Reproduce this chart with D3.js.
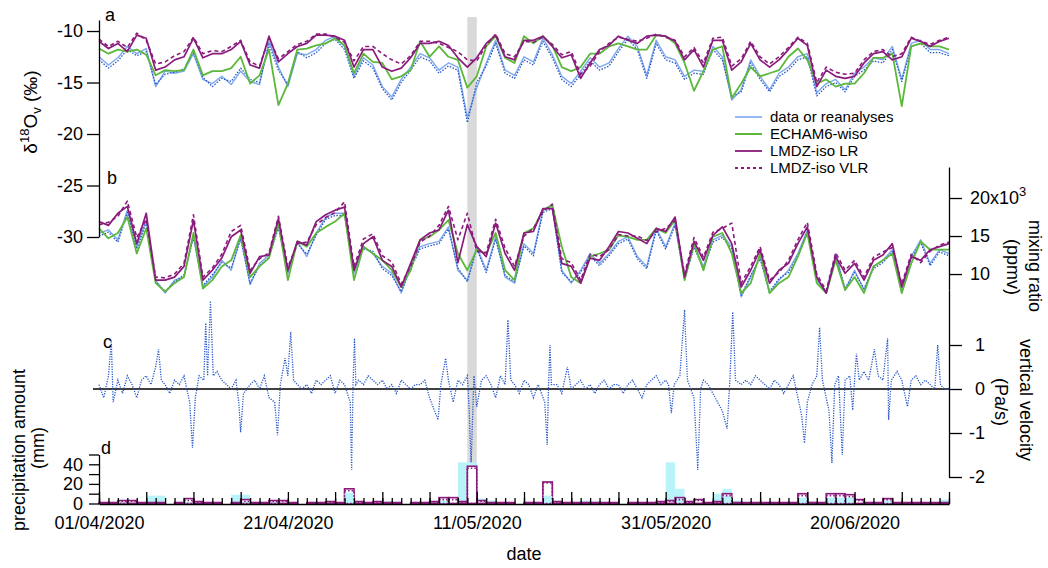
<!DOCTYPE html>
<html>
<head>
<meta charset="utf-8">
<script src="https://d3js.org/d3.v7.min.js"></script>
<style>
  body { margin: 0; background: #fff; }
  text { font-family: "Liberation Sans", Arial, sans-serif; fill: #000; }
  .axis path, .axis line { stroke: #000; stroke-width: 1.3; }
  .axis text { font-size: 18px; }
</style>
</head>
<body>
<div class="chart"></div>
<script>
// Daily values, 01/04/2020 (day 0) .. 30/06/2020 (day 90)

// panel a : d18O of vapour (permil)
var d18Data = [-12.5,-13.3,-12.6,-11.5,-12.2,-11.7,-15.4,-13.9,-14.1,-13.9,
  -12.2,-14.7,-15.1,-14.4,-15.2,-13.9,-14.9,-15.2,-11.0,-13.5,
  -15.4,-12.2,-12.3,-11.8,-10.9,-10.5,-11.5,-14.4,-12.6,-13.3,
  -15.4,-16.4,-14.7,-13.5,-12.2,-12.6,-13.8,-13.1,-13.5,-18.4,
  -15.5,-13.1,-10.9,-13.8,-14.3,-12.5,-13.0,-10.7,-12.3,-14.4,
  -15.1,-13.9,-12.6,-13.5,-13.1,-11.7,-10.5,-11.5,-14.3,-10.9,
  -12.5,-12.8,-14.4,-13.8,-13.9,-11.5,-12.5,-16.7,-15.7,-12.8,
  -14.4,-15.7,-14.1,-13.5,-12.5,-12.2,-16.0,-15.1,-14.7,-15.7,
  -14.1,-13.5,-12.6,-12.8,-11.5,-14.7,-11.2,-10.9,-11.8,-11.8,-12.2];
var d18Rean = [-12.8,-13.6,-12.9,-11.8,-12.4,-12.0,-15.2,-14.2,-14.0,-13.7,
  -12.0,-14.5,-15.4,-14.6,-14.9,-13.6,-14.7,-15.0,-11.3,-13.8,
  -15.2,-12.0,-12.6,-12.1,-11.2,-10.8,-11.8,-14.6,-12.9,-13.6,
  -15.6,-16.7,-15.0,-13.8,-12.5,-12.9,-14.1,-13.4,-13.8,-18.9,
  -15.0,-13.4,-11.2,-14.1,-14.6,-12.8,-13.3,-11.0,-12.6,-14.7,
  -15.4,-14.2,-12.9,-13.8,-13.4,-12.0,-10.8,-11.8,-14.6,-11.2,
  -12.8,-13.1,-14.7,-14.1,-14.2,-11.8,-12.8,-16.4,-15.9,-13.1,
  -14.7,-15.9,-14.4,-13.8,-12.8,-12.5,-16.3,-15.4,-15.0,-15.9,
  -14.4,-13.8,-12.9,-13.1,-11.8,-14.9,-11.5,-11.2,-12.1,-12.1,-12.4];
var d18Echam = [-11.7,-12.2,-11.8,-12.0,-11.8,-12.3,-14.3,-13.8,-13.9,-13.8,
  -11.8,-14.3,-13.9,-13.9,-13.6,-12.5,-15.1,-14.3,-11.8,-17.2,
  -15.1,-11.8,-11.7,-11.4,-11.2,-10.7,-11.4,-14.1,-12.2,-13.0,
  -13.1,-14.7,-14.4,-13.8,-11.0,-12.5,-11.5,-12.5,-12.8,-15.5,
  -14.4,-11.5,-10.5,-12.6,-13.1,-10.5,-11.2,-10.5,-11.4,-13.5,
  -13.9,-13.5,-12.2,-12.2,-11.5,-11.2,-11.5,-11.8,-11.8,-10.4,
  -10.5,-11.2,-13.1,-15.8,-13.9,-11.8,-11.5,-16.5,-15.1,-13.5,
  -14.4,-14.1,-13.8,-12.5,-11.7,-12.8,-15.1,-14.7,-15.4,-15.1,
  -15.1,-14.1,-12.6,-12.6,-12.2,-17.3,-11.5,-11.2,-11.5,-11.5,-11.8];
var d18LR = [-11.0,-11.7,-11.2,-12.0,-10.4,-10.7,-13.8,-13.5,-12.8,-12.5,
  -10.7,-12.6,-12.2,-12.2,-11.8,-11.0,-13.3,-13.6,-10.5,-13.0,
  -12.2,-11.5,-11.2,-10.4,-10.4,-10.5,-10.9,-13.5,-11.8,-11.8,
  -13.5,-13.9,-13.6,-12.6,-11.2,-11.2,-11.0,-11.4,-12.6,-13.5,
  -12.6,-11.2,-10.4,-12.5,-12.8,-10.9,-10.9,-10.5,-11.5,-12.6,
  -12.3,-14.6,-13.1,-11.8,-11.4,-10.5,-10.9,-11.2,-10.5,-10.4,
  -10.5,-11.0,-12.8,-11.8,-13.5,-10.9,-10.9,-13.8,-13.0,-11.2,
  -12.8,-13.5,-12.8,-11.8,-10.7,-11.4,-15.4,-13.8,-14.4,-14.6,
  -14.4,-13.1,-12.2,-12.0,-12.8,-12.5,-10.7,-11.0,-11.5,-11.0,-10.7];
var d18VLR = [-10.8,-11.5,-11.0,-11.6,-10.2,-10.9,-13.2,-13.0,-12.4,-12.0,
  -10.6,-12.2,-11.9,-12.0,-11.5,-10.9,-13.0,-13.4,-10.7,-12.7,
  -12.0,-11.3,-11.0,-10.3,-10.3,-10.6,-11.1,-12.9,-11.5,-11.5,
  -12.2,-12.8,-13.2,-12.4,-11.0,-11.0,-11.2,-11.6,-12.0,-12.8,
  -12.9,-11.4,-10.3,-12.2,-12.5,-11.0,-11.1,-10.6,-11.3,-12.3,
  -12.0,-14.2,-13.4,-12.0,-11.2,-10.6,-10.8,-11.0,-10.7,-10.3,
  -10.6,-10.9,-12.5,-11.6,-13.1,-10.7,-10.6,-13.4,-12.7,-11.0,
  -12.5,-13.2,-12.5,-11.6,-10.6,-11.2,-15.0,-13.5,-14.0,-14.2,
  -14.1,-12.8,-12.0,-11.8,-12.5,-12.2,-10.6,-11.0,-11.3,-10.9,-10.6];

// panel b : mixing ratio (10^3 ppmv)
var qData = [15.4,15.8,14.5,18.4,13.6,17.1,9.2,7.5,9.2,9.6,
  15.1,8.3,9.6,11.8,10.5,14.9,8.6,11.4,12.5,16.4,
  10.1,14.3,12.3,15.4,17.5,18.0,18.0,10.1,13.6,12.7,
  11.0,10.1,7.5,11.0,13.6,14.0,14.3,16.2,10.5,9.2,
  13.6,10.5,14.9,9.6,8.8,14.0,12.7,18.4,18.9,10.5,
  8.8,10.5,12.7,11.4,12.7,14.3,14.9,12.3,11.0,16.0,
  13.6,16.7,9.2,13.8,11.0,14.5,15.1,13.6,7.0,9.6,
  12.3,7.5,9.2,10.5,12.7,15.8,9.2,7.5,12.7,7.9,
  10.5,7.9,11.0,11.8,13.2,7.5,12.3,14.5,11.4,13.2,12.7];
var qRean = [15.0,15.5,14.2,18.1,13.3,16.8,9.0,7.7,9.0,9.9,
  14.8,8.5,9.9,11.5,10.8,14.6,8.8,11.1,12.2,16.1,
  10.3,14.0,12.6,15.1,17.2,17.7,17.7,10.3,13.3,13.0,
  10.7,9.8,7.7,10.7,13.3,13.7,14.0,15.9,10.8,9.0,
  13.3,10.2,14.6,9.8,9.0,13.7,12.4,18.1,18.6,10.2,
  9.0,10.2,12.4,11.1,12.4,14.0,14.6,12.0,10.7,15.7,
  13.3,16.4,9.4,13.5,10.7,14.2,14.8,13.3,7.2,9.8,
  12.0,7.7,9.4,10.2,12.4,15.5,9.4,7.7,12.4,8.1,
  10.2,8.1,10.7,11.5,12.9,7.7,12.0,14.2,11.1,12.9,12.4];
var qEcham = [16.0,14.7,15.4,17.5,12.7,16.0,8.8,7.7,8.8,9.6,
  15.4,8.1,9.2,11.0,11.8,15.1,9.6,11.0,12.1,16.7,
  9.2,14.3,13.6,15.4,16.2,16.9,18.0,9.2,13.6,12.7,
  11.8,10.5,8.3,10.5,14.5,14.9,15.8,17.1,12.7,10.5,
  13.2,12.7,15.4,10.5,9.2,15.4,16.0,18.4,19.1,13.6,
  9.6,8.8,12.3,12.7,13.2,15.1,14.9,14.5,14.5,16.0,
  15.4,17.1,9.2,14.0,10.5,14.9,15.4,12.7,7.5,8.8,
  12.7,7.5,8.8,9.6,12.3,15.4,8.8,7.5,11.8,7.9,
  9.6,7.5,11.0,11.8,12.7,7.5,11.4,14.3,13.2,13.2,13.2];
var qLR = [16.9,16.4,18.0,18.9,14.0,18.0,9.2,9.2,9.6,11.0,
  17.1,9.2,10.5,12.1,14.9,15.8,10.1,12.3,12.5,17.3,
  10.5,14.3,13.8,16.9,17.8,18.4,18.8,10.5,14.0,14.9,
  11.8,11.0,8.3,11.4,14.5,15.4,15.8,18.4,11.5,16.5,
  13.6,12.3,16.7,12.7,10.5,15.4,15.6,18.6,18.6,11.4,
  11.0,8.8,12.1,11.8,13.6,15.6,15.4,14.7,14.0,16.0,
  15.6,17.5,9.6,14.3,11.8,15.1,16.2,14.0,8.3,10.5,
  13.2,8.8,10.5,11.4,14.0,16.2,9.6,7.5,12.3,10.1,
  11.4,9.2,11.8,12.5,14.0,8.3,12.3,11.8,13.2,13.6,14.0];
var qVLR = [16.5,16.8,17.6,19.6,14.8,17.2,9.6,9.5,10.0,11.4,
  17.8,9.6,10.8,12.6,15.6,16.4,10.5,12.0,12.8,17.6,
  10.9,14.0,14.2,16.5,17.4,18.1,19.5,11.0,14.6,15.3,
  12.4,11.6,8.7,11.0,14.2,15.0,16.4,18.9,14.5,18.0,
  13.0,12.8,17.2,13.4,11.0,15.0,16.0,18.2,19.2,12.0,
  11.5,9.2,12.6,12.3,13.2,15.2,15.0,15.0,14.4,15.6,
  16.0,17.0,10.0,14.8,12.2,15.5,16.0,16.7,8.8,11.0,
  13.6,9.2,10.2,11.8,14.5,16.8,10.0,7.8,12.8,10.5,
  11.8,9.6,12.2,12.9,13.5,8.7,12.6,11.5,13.0,13.8,14.2];

// panel c : vertical velocity (Pa/s), [day, value]
var velocity = [[0,0.1],[0.5,-0.2],[1.0,0.3],[1.3,1.1],[1.5,-0.3],[2.0,0.2],[2.5,-0.1],[3,0.3],[3.5,0.1],[4,-0.2],
  [4.5,0.2],[5,0.3],[5.5,0.1],[6.0,0.5],[6.3,0.9],[6.6,0.2],[7,0.1],[7.5,-0.1],[8,0.2],[8.5,0.1],
  [9,0.3],[9.6,-0.3],[9.9,-1.34],[10.2,-0.2],[10.6,0.3],[11.1,0.2],[11.3,1.5],[11.5,0.3],[11.8,2.0],[12.1,0.3],
  [12.5,0.4],[13,0.2],[13.5,0.1],[14,0.0],[14.5,0.2],[14.8,-0.3],[15.0,-0.98],[15.3,-0.1],[16,0.1],[16.5,0.2],
  [17,0.0],[17.5,0.3],[18.0,-0.2],[18.6,-0.3],[18.9,-1.05],[19.2,0.1],[19.7,0.7],[20.0,0.3],[20.3,1.3],[20.6,0.2],
  [21,0.1],[21.5,0.0],[22,0.1],[22.5,-0.1],[23,0.2],[23.5,0.1],[24,0.2],[24.5,0.3],[25,-0.1],[25.5,0.2],
  [26.0,0.1],[26.6,-0.3],[26.75,-1.84],[26.9,0.1],[27.05,1.15],[27.2,0.1],[27.5,0.2],[28,0.1],[28.5,0.3],[29,0.2],
  [29.5,0.1],[30,0.2],[30.5,0.0],[31,0.1],[31.5,-0.1],[32,0.2],[32.5,0.1],[33,0.0],[33.5,0.1],[34,0.1],
  [34.5,0.2],[35,-0.2],[35.9,-0.7],[36.2,0.1],[36.7,0.7],[37.0,0.2],[37.5,-0.3],[38,0.2],[38.5,0.1],[39,0.3],
  [39.2,-0.5],[39.4,-1.7],[39.7,0.3],[40,-0.4],[40.5,0.2],[41,0.3],[41.5,0.1],[42,-0.2],[42.5,0.3],[43.0,0.1],
  [43.3,1.57],[43.6,0.2],[44,0.1],[44.5,-0.1],[45,0.2],[45.5,0.1],[46,-0.2],[46.5,0.1],[47.2,-0.3],[47.45,-1.27],
  [47.6,0.1],[47.75,1.0],[47.9,0.1],[48.5,0.1],[49,-0.1],[49.6,0.5],[50,0.0],[50.5,0.1],[51,0.2],[51.5,0.0],
  [52,0.1],[52.5,-0.1],[53,0.1],[53.5,0.2],[54,0.0],[54.5,0.1],[55,0.1],[55.5,-0.1],[56,0.1],[56.5,0.2],
  [57,0.0],[57.5,-0.2],[58,0.1],[58.5,0.2],[59,0.3],[59.5,0.1],[60,0.2],[60.3,0.1],[60.6,-0.55],[60.9,0.1],
  [61.5,0.3],[62.0,1.8],[62.3,0.2],[63.0,-0.2],[63.4,-1.84],[63.7,0.0],[64,0.2],[64.5,0.1],[65,-0.1],[65.5,-0.3],
  [66,-0.5],[66.5,-0.9],[66.8,0.2],[67.1,1.75],[67.4,0.2],[68,0.1],[68.5,0.2],[69,0.1],[69.5,0.3],[70,0.2],
  [70.5,0.1],[71,0.0],[71.5,0.2],[72,0.1],[72.5,-0.1],[73,0.1],[73.5,0.3],[74.0,-0.2],[74.4,-0.6],[74.7,-1.23],
  [75.0,-0.3],[75.5,0.1],[76.0,0.3],[76.3,1.4],[76.6,0.2],[77.0,-0.2],[77.3,-0.5],[77.6,-1.68],[77.9,0.1],[78.3,0.3],
  [78.7,-1.5],[79.0,0.2],[79.5,0.3],[79.8,-0.48],[80.0,0.2],[80.2,0.8],[80.5,0.2],[81,0.4],[81.5,0.2],[82.1,0.9],
  [82.5,0.3],[83,0.2],[83.5,1.15],[83.6,-0.7],[83.9,0.2],[84.5,0.4],[85,0.2],[85.6,-0.4],[86,0.2],[86.5,0.3],
  [87,0.1],[87.5,0.2],[88,0.1],[88.5,0.0],[88.8,1.0],[89.1,0.1],[89.5,0.0],[90,0.0]];

// panel d : daily precipitation (mm), day 0 .. 89
var precipData = [1,0,1,0,0,8,8,0,0,2, 1,0,0,0,9,9,1,0,2,1, 0,0,0,0,1,0,12,2,1,0,
  2,1,0,0,0,0,4,2,42,42, 5,3,0,0,0,0,1,8,1,0, 0,3,2,0,0,0,0,0,0,1,
  42,15,2,3,0,10,15,3,0,0, 0,0,0,0,6,2,0,8,8,7, 3,1,0,4,1,0,0,0,0,4];
var precipLR = [1,1,3,3,1,1,1,0,1,5, 2,1,1,0,1,4,1,1,3,3, 1,0,1,1,2,1,15,2,1,2,
  1,1,0,1,1,2,6,6,2,38, 3,1,1,1,0,1,1,22,2,1, 1,1,1,1,1,0,1,1,1,2,
  3,6,2,4,1,2,10,1,1,1, 1,1,1,1,10,1,1,10,10,9, 4,1,1,5,1,1,1,1,1,1];
var precipRean = [0,0,1,0,0,0,0,0,0,1, 0,0,0,0,0,2,0,0,1,0, 0,0,0,0,0,0,11,0,0,0,
  0,0,0,0,0,0,3,0,0,0, 0,0,0,0,0,0,0,8,0,0, 0,0,0,0,0,0,0,0,0,0,
  0,5,0,0,0,0,8,0,0,0, 0,0,0,0,6,0,0,6,6,6, 0,0,0,3,0,0,0,0,0,0];
var precipVLR = [0,0,2,2,0,0,0,0,0,3, 1,0,0,0,0,2,0,0,2,2, 0,0,0,0,1,0,13,1,0,1,
  0,0,0,0,0,1,4,4,1,36, 2,0,0,0,0,0,0,21,1,0, 0,0,0,0,0,0,0,0,0,1,
  2,4,1,3,0,1,8,0,0,0, 0,0,0,0,8,0,0,8,8,7, 3,0,0,4,0,0,0,0,0,0];

var legendLabels = ["data or reanalyses", "ECHAM6-wiso", "LMDZ-iso LR", "LMDZ-iso VLR"];
var dateLabelDays = [0, 20, 40, 60, 80];

// colours
var cData = "#7ea8ee", cRean = "#2556c8", cEcham = "#5cb83a", cLmdz = "#8a1a7c", cRain = "#b9f3fa";

var svgWidth = 1048, svgHeight = 568;
var svg = d3.select(".chart")
  .append("svg")
  .attr("width", svgWidth)
  .attr("height", svgHeight);

var start = Date.UTC(2020, 3, 1);
function dayDate(d) { return new Date(start + d * 864e5); }
var plain = function(d) { return String(d); };

// scales
var x = d3.scaleUtc().domain([dayDate(0), dayDate(90)]).range([99, 949]);
var yIso = d3.scaleLinear().domain([-30, -8.93]).range([237, 20]);
var yQ = d3.scaleLinear().domain([7.9, 24.08]).range([290, 167]);
var yW = d3.scaleLinear().domain([-2, 2.25]).range([477, 290]);
var yP = d3.scaleLinear().domain([0, 50]).range([503.5, 454.5]);

// grey band on 10/05
svg.append("rect")
  .attr("x", x(dayDate(39)))
  .attr("width", x(dayDate(40)) - x(dayDate(39)))
  .attr("y", 17)
  .attr("height", 486)
  .attr("fill", "#d9d9d9");

function drawSeries(vals, yScale, color, width, dash) {
  var line = d3.line()
    .x(function(d, i) { return x(dayDate(i)); })
    .y(function(d) { return yScale(d); });
  svg.append("path")
    .datum(vals)
    .attr("d", line)
    .attr("fill", "none")
    .attr("stroke", color)
    .attr("stroke-width", width)
    .attr("stroke-linejoin", "round")
    .attr("stroke-dasharray", dash || null);
}

// panel a
drawSeries(d18Data, yIso, cData, 1.4);
drawSeries(d18Rean, yIso, cRean, 1.3, "1.5,1.5");
drawSeries(d18Echam, yIso, cEcham, 1.8);
drawSeries(d18VLR, yIso, cLmdz, 1.6, "4,3");
drawSeries(d18LR, yIso, cLmdz, 1.7);

// panel b
drawSeries(qData, yQ, cData, 1.4);
drawSeries(qRean, yQ, cRean, 1.3, "1.5,1.5");
drawSeries(qEcham, yQ, cEcham, 1.8);
drawSeries(qVLR, yQ, cLmdz, 1.6, "4,3");
drawSeries(qLR, yQ, cLmdz, 1.7);

// panel c
svg.append("line")
  .attr("x1", 93).attr("x2", 949)
  .attr("y1", yW(0)).attr("y2", yW(0))
  .attr("stroke", "#000").attr("stroke-width", 1.5);

svg.append("path")
  .datum(velocity)
  .attr("d", d3.line()
    .x(function(d) { return x(dayDate(d[0])); })
    .y(function(d) { return yW(d[1]); }))
  .attr("fill", "none")
  .attr("stroke", cRean)
  .attr("stroke-width", 1.3)
  .attr("stroke-dasharray", "1.2,1.3");

// panel d
function drawBars(vals, fill, stroke, dash) {
  svg.append("g")
    .selectAll("rect")
    .data(vals)
    .enter()
    .append("rect")
      .attr("x", function(d, i) { return x(dayDate(i)); })
      .attr("width", function(d, i) { return x(dayDate(i + 1)) - x(dayDate(i)); })
      .attr("y", function(d) { return yP(d); })
      .attr("height", function(d) { return yP(0) - yP(d); })
      .attr("fill", fill)
      .attr("stroke", stroke)
      .attr("stroke-width", stroke ? 1.6 : 0)
      .attr("stroke-dasharray", dash || null);
}
drawBars(precipData, cRain, null);
drawBars(precipLR, "#fff", cLmdz);
drawBars(precipRean, cRain, null);
drawBars(precipVLR, "none", cLmdz, "1.5,2");

// axes
svg.append("g")
  .attr("class", "axis")
  .attr("transform", "translate(99,0)")
  .call(d3.axisLeft(yIso).tickValues([-10, -15, -20, -25, -30]).tickSize(12).tickSizeOuter(0).tickPadding(4)
    .tickFormat(plain));

svg.append("g")
  .attr("class", "axis")
  .attr("transform", "translate(949,0)")
  .call(d3.axisRight(yQ).tickValues([10, 15, 20]).tickSize(13).tickSizeOuter(0).tickPadding(8)
    .tickFormat(function(d) { return d == 20 ? "" : d; }));

svg.append("g")
  .attr("class", "axis")
  .attr("transform", "translate(949,0)")
  .call(d3.axisRight(yW).tickValues([1, 0, -1, -2]).tickSize(13).tickSizeOuter(0).tickPadding(8)
    .tickFormat(plain))
  .selectAll("text")
    .attr("text-anchor", "end")
    .attr("x", 36);

// 20x10^3 label
var t20 = svg.append("text")
  .attr("x", 970).attr("y", yQ(20) + 6)
  .attr("font-size", 18);
t20.append("tspan").text("20x10");
t20.append("tspan").attr("font-size", 13).attr("dy", -8).text("3");

svg.append("g")
  .attr("class", "axis")
  .attr("transform", "translate(99,0)")
  .call(d3.axisLeft(yP).tickValues([0, 10, 20, 30, 40, 50]).tickSize(10).tickSizeOuter(0).tickPadding(6)
    .tickFormat(function(d) { return (d % 20 == 0 && d < 50) ? d : ""; }));

// bottom axis: daily minor ticks, 5-day major ticks
var bottom = svg.append("g")
  .attr("class", "axis")
  .attr("transform", "translate(0,504)");
bottom.call(d3.axisBottom(x).ticks(d3.utcDay.every(1)).tickSize(-6).tickSizeOuter(0).tickFormat(""));
bottom.append("g")
  .call(d3.axisBottom(x).tickValues(d3.range(0, 91, 5).map(dayDate)).tickSize(-12).tickSizeOuter(0).tickFormat(""))
  .select(".domain").remove();
bottom.append("g")
  .call(d3.axisBottom(x).tickValues(dateLabelDays.map(dayDate)).tickSize(0).tickPadding(12)
    .tickFormat(d3.utcFormat("%d/%m/%Y")))
  .select(".domain").remove();

// panel letters
[["a", 105, 21], ["b", 107, 184], ["c", 103, 348], ["d", 101, 454]].forEach(function(p) {
  svg.append("text").attr("x", p[1]).attr("y", p[2]).attr("font-size", 18).text(p[0]);
});

// axis titles
var isoTitle = svg.append("text")
  .attr("transform", "translate(37,112) rotate(-90)")
  .attr("text-anchor", "middle")
  .attr("font-size", 19);
isoTitle.append("tspan").text("δ");
isoTitle.append("tspan").attr("font-size", 13).attr("dy", -8).text("18");
isoTitle.append("tspan").attr("dy", 8).text("O");
isoTitle.append("tspan").attr("font-size", 13).attr("dy", 4).text("v");
isoTitle.append("tspan").attr("dy", -4).text(" (‰)");

function rotTitle(txt, cx, cy, ang) {
  svg.append("text")
    .attr("transform", "translate(" + cx + "," + cy + ") rotate(" + ang + ")")
    .attr("text-anchor", "middle")
    .attr("dominant-baseline", "central")
    .attr("font-size", 18)
    .text(txt);
}
rotTitle("precipitation amount", 19, 450, -90);
rotTitle("(mm)", 38, 448, -90);
rotTitle("mixing ratio", 1035, 266, 90);
rotTitle("(ppmv)", 1013, 267, 90);
rotTitle("vertical velocity", 1026, 400, 90);
rotTitle("(Pa/s)", 1001, 402, 90);

svg.append("text")
  .attr("x", 524).attr("y", 560)
  .attr("text-anchor", "middle")
  .attr("font-size", 18)
  .text("date");

// legend
var legendStyles = [[cData, 1.6, null], [cEcham, 2, null], [cLmdz, 1.8, null], [cLmdz, 1.8, "3,3"]];
var legend = svg.append("g");
legendLabels.forEach(function(lab, i) {
  var ly = 117 + i * 17;
  legend.append("line")
    .attr("x1", 735).attr("x2", 762).attr("y1", ly).attr("y2", ly)
    .attr("stroke", legendStyles[i][0])
    .attr("stroke-width", legendStyles[i][1])
    .attr("stroke-dasharray", legendStyles[i][2]);
  legend.append("text")
    .attr("x", 770).attr("y", ly + 5)
    .attr("font-size", 15)
    .text(lab);
});
</script>
</body>
</html>
